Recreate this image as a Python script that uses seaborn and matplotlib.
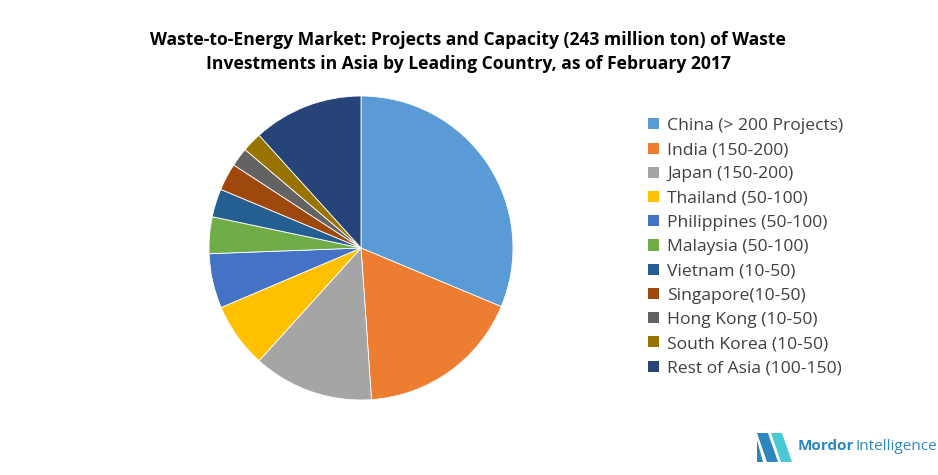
import matplotlib
matplotlib.use("Agg")
from matplotlib import pyplot as plt
from matplotlib.patches import Patch, Polygon
import seaborn as sns

# data (share of slices, %)
countries = ["China (> 200 Projects)", "India (150-200)", "Japan (150-200)",
             "Thailand (50-100)", "Philippines (50-100)", "Malaysia (50-100)",
             "Vietnam (10-50)", "Singapore(10-50)", "Hong Kong (10-50)",
             "South Korea (10-50)", "Rest of Asia (100-150)"]
shares = [31.3, 17.6, 12.8, 6.9, 5.8, 3.9, 3.0, 2.9, 2.0, 2.1, 11.7]
colors = ["#5B9BD5", "#ED7D31", "#A5A5A5", "#FFC000", "#4472C4", "#70AD47",
          "#255E91", "#9E480E", "#636363", "#997300", "#264478"]

sns.set_theme(style="white")
plt.rcParams["font.family"] = ["Open Sans", "DejaVu Sans"]

W, H = 938, 475
fig = plt.figure(figsize=(W / 100, H / 100), dpi=100)

# pie axes: centre (361, 248), radius 152 px
cx, cy, r = 361, 248, 152
ax = fig.add_axes([(cx - r) / W, (H - cy - r) / H, 2 * r / W, 2 * r / H])
wedges, _ = ax.pie(shares, colors=colors, startangle=90, counterclock=False,
                   wedgeprops=dict(edgecolor="white", linewidth=0.6))
ax.set_xlim(-1, 1)
ax.set_ylim(-1, 1)
ax.set_aspect("equal")
ax.axis("off")

fig.text(468 / W, 1 - 40 / H, "Waste-to-Energy Market: Projects and Capacity (243 million ton) of Waste",
         ha="center", va="center", fontsize=12.6, fontweight="bold", color="black")
fig.text(468 / W, 1 - 64 / H, "Investments in Asia by Leading Country, as of February 2017",
         ha="center", va="center", fontsize=12.6, fontweight="bold", color="black")

handles = [Patch(facecolor=c, edgecolor="none") for c in colors]
leg = fig.legend(handles, countries, loc="upper left",
                 bbox_to_anchor=(641 / W, 1 - 111 / H), frameon=False,
                 fontsize=12.6, handlelength=0.6, handleheight=0.6,
                 handletextpad=0.5, labelspacing=0.47, borderaxespad=0)
for t in leg.get_texts():
    t.set_color("#404040")

# logo
def fx(x):
    return x / W

def fy(y):
    return 1 - y / H

fig.patches.append(Polygon([[fx(757), fy(433)], [fx(768), fy(433)], [fx(778), fy(462)], [fx(767), fy(462)]],
                           closed=True, transform=fig.transFigure, facecolor="#2E86C1", edgecolor="none"))
fig.patches.append(Polygon([[fx(771), fy(433)], [fx(782), fy(433)], [fx(792), fy(462)], [fx(781), fy(462)]],
                           closed=True, transform=fig.transFigure, facecolor="#48C9D6", edgecolor="none"))
fig.patches.append(Polygon([[fx(757), fy(440)], [fx(763), fy(462)], [fx(757), fy(462)]],
                           closed=True, transform=fig.transFigure, facecolor="#2E86C1", edgecolor="none"))
t1 = fig.text(fx(798), fy(446), "Mordor", fontsize=11, color="#2E86C1",
              fontweight="bold", va="center", ha="left")
fig.canvas.draw()
bb = t1.get_window_extent()
fig.text(bb.x1 / W + 1 / W, fy(446), "Intelligence", fontsize=11, color="#2E86C1",
         va="center", ha="left")

plt.savefig("out.png", dpi=100)
